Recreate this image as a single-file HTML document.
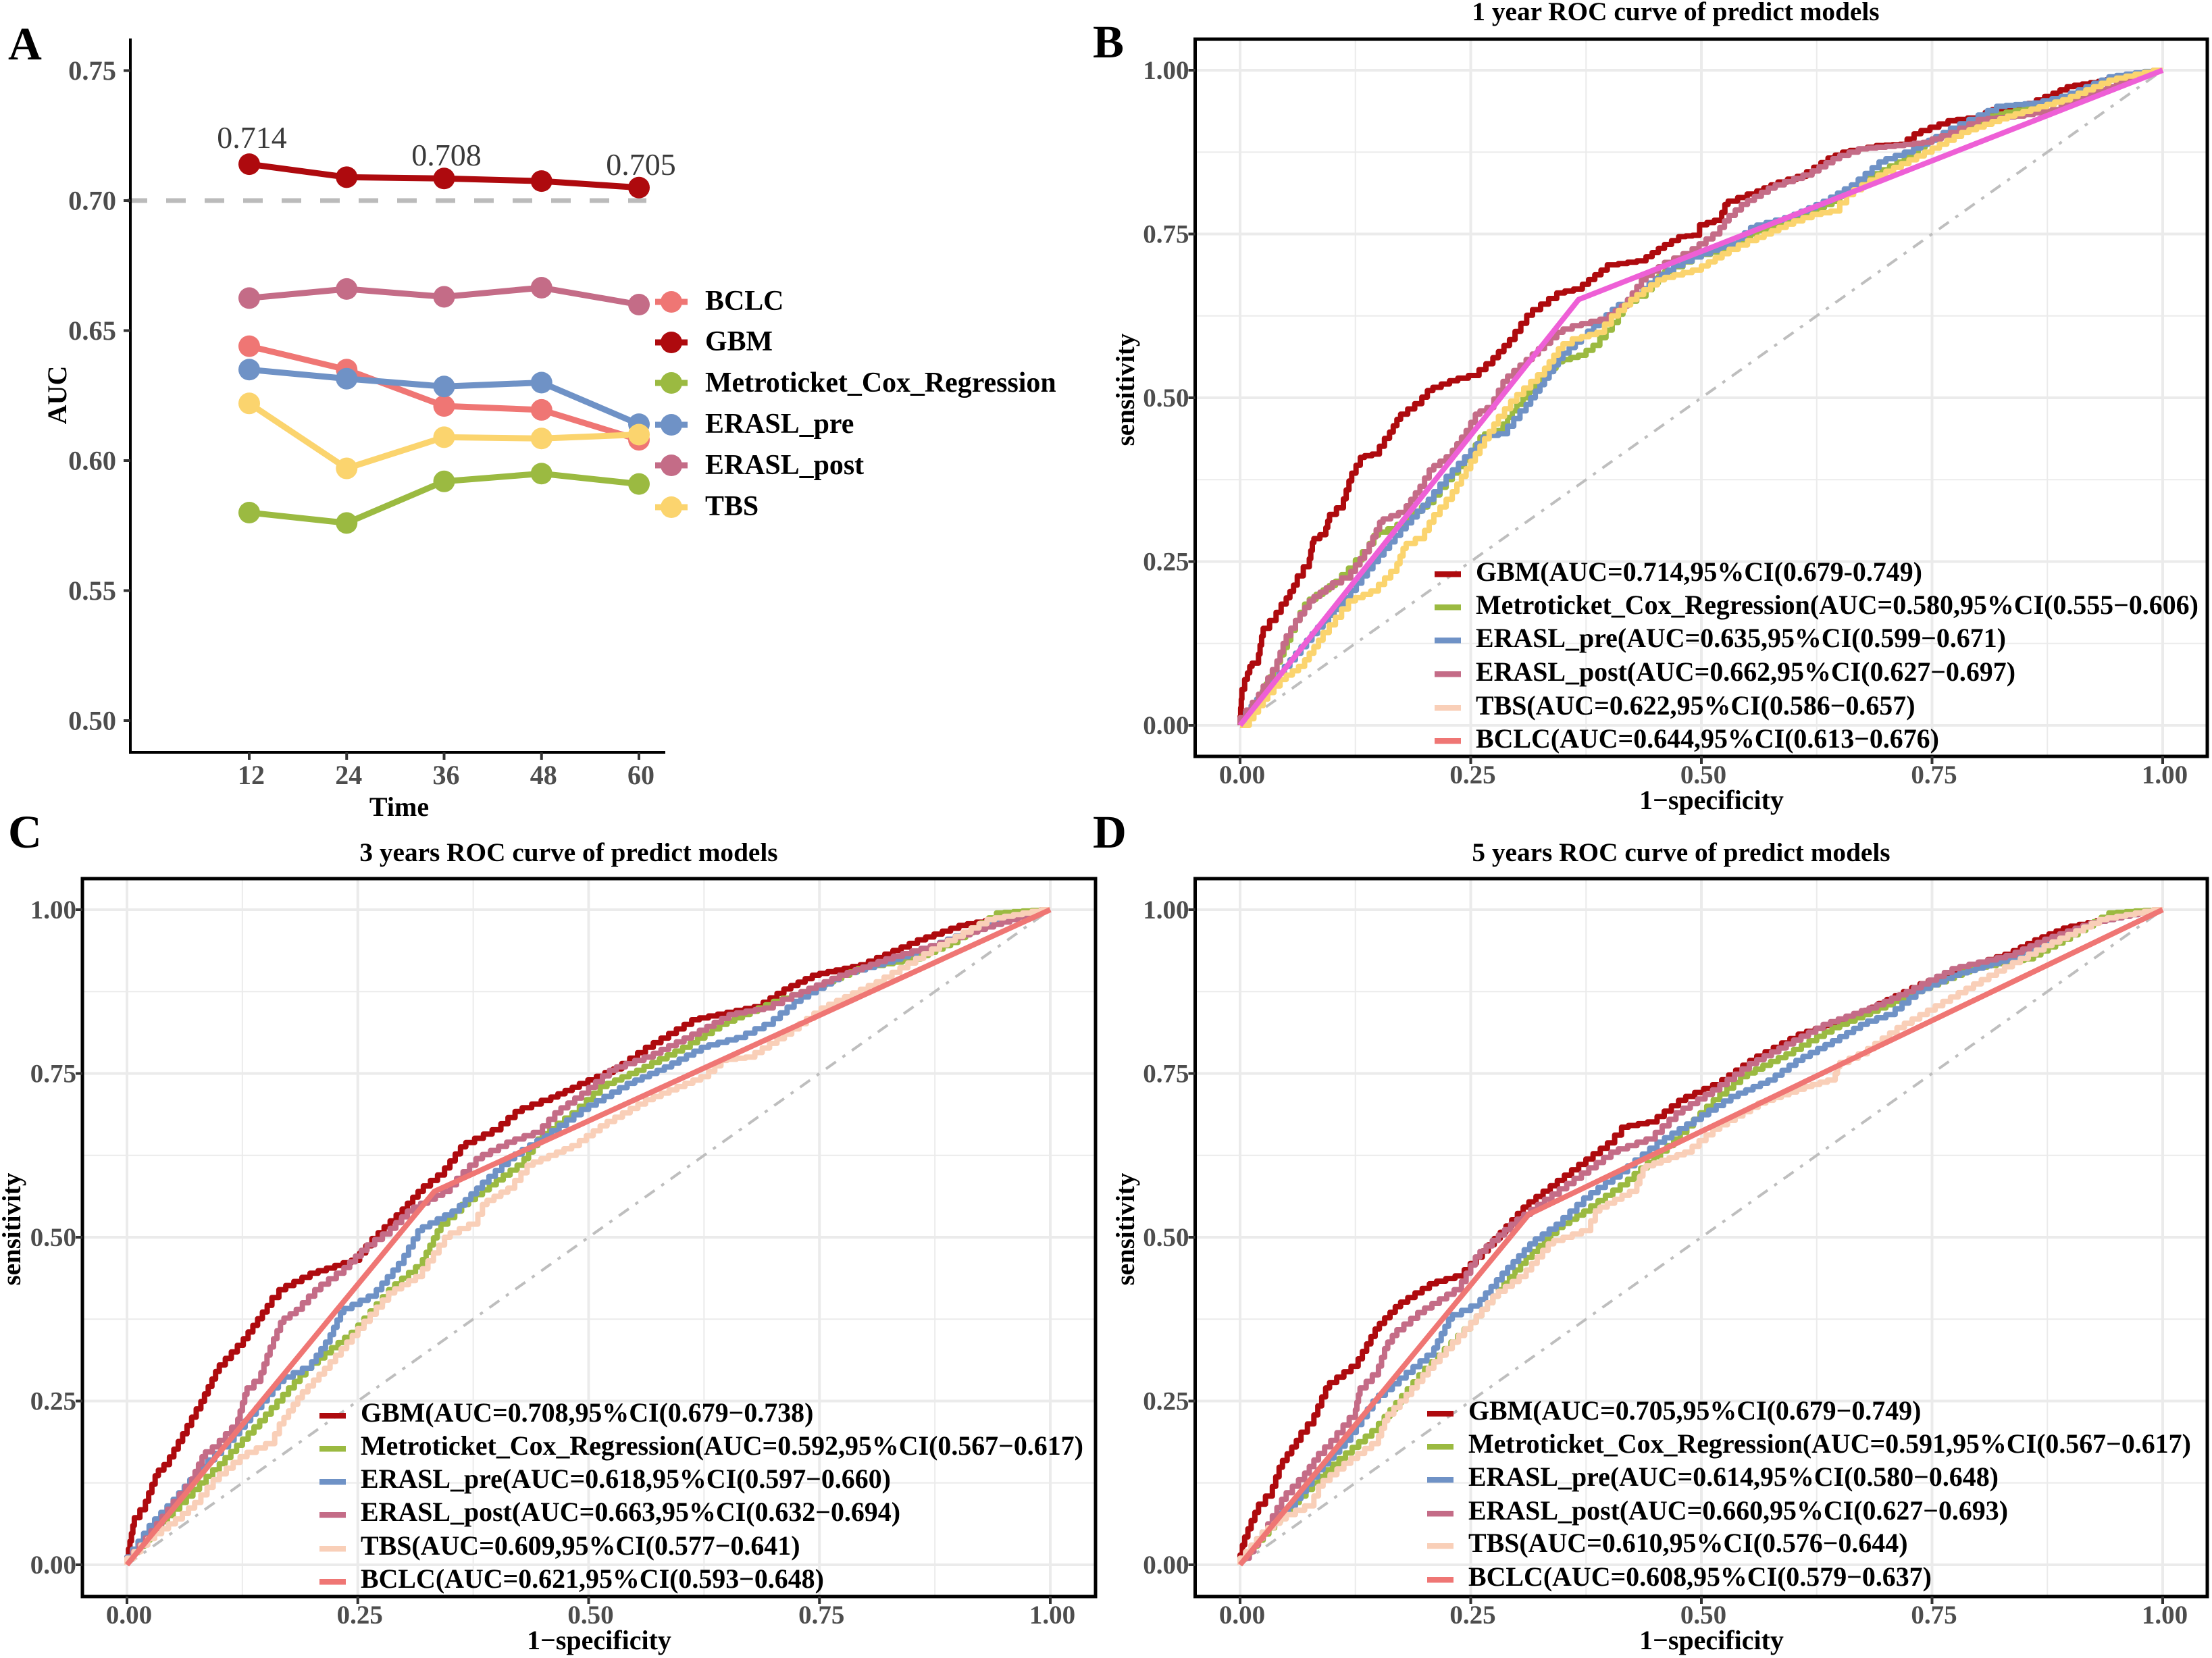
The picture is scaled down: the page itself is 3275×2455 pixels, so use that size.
<!DOCTYPE html>
<html lang="en">
<head>
<meta charset="utf-8">
<title>AUC over time and ROC curves of predict models</title>
<style>
html,body{margin:0;padding:0;background:#fff;}
svg{display:block;font-family:"Liberation Serif",serif;}
.b{font-weight:bold;fill:#000;}
.lg{font-size:39.9px;font-weight:bold;fill:#000;}
.ttl{font-size:39.3px;font-weight:bold;fill:#000;text-anchor:middle;}
.axt{font-size:40px;font-weight:bold;fill:#000;text-anchor:middle;}
.let{font-size:69px;font-weight:bold;fill:#000;}
.val{font-size:46px;fill:#3a3a3a;text-anchor:middle;}
.lga{font-size:41.9px;font-weight:bold;fill:#000;}
</style>
</head>
<body>
<svg id="figure" xmlns="http://www.w3.org/2000/svg" width="3275" height="2455" viewBox="0 0 3275 2455">
<rect width="3275" height="2455" fill="#fff"/>

<g id="panel-a">
  <g id="a-marks"></g>
  <text class="let" x="12" y="88">A</text>
  <text class="val" x="373" y="219">0.714</text>
  <text class="val" x="661" y="245">0.708</text>
  <text class="val" x="949" y="259">0.705</text>
  <text class="axt" x="591" y="1208">Time</text>
  <text class="axt" transform="translate(98,585) rotate(-90)">AUC</text>
  <g>
    <g><line x1="970" x2="1018" y1="447" y2="447" stroke="#EF7674" stroke-width="9"/><circle cx="994" cy="447" r="16" fill="#EF7674"/><text class="lga" x="1044" y="459">BCLC</text></g>
    <g><line x1="970" x2="1018" y1="507" y2="507" stroke="#AE0A0E" stroke-width="9"/><circle cx="994" cy="507" r="16" fill="#AE0A0E"/><text class="lga" x="1044" y="519">GBM</text></g>
    <g><line x1="970" x2="1018" y1="567" y2="567" stroke="#9BBA41" stroke-width="9"/><circle cx="994" cy="567" r="16" fill="#9BBA41"/><text class="lga" x="1044" y="580">Metroticket_Cox_Regression</text></g>
    <g><line x1="970" x2="1018" y1="629" y2="629" stroke="#6F92C6" stroke-width="9"/><circle cx="994" cy="629" r="16" fill="#6F92C6"/><text class="lga" x="1044" y="641">ERASL_pre</text></g>
    <g><line x1="970" x2="1018" y1="689" y2="689" stroke="#C46C87" stroke-width="9"/><circle cx="994" cy="689" r="16" fill="#C46C87"/><text class="lga" x="1044" y="702">ERASL_post</text></g>
    <g><line x1="970" x2="1018" y1="751" y2="751" stroke="#FBD46E" stroke-width="9"/><circle cx="994" cy="751" r="16" fill="#FBD46E"/><text class="lga" x="1044" y="763">TBS</text></g>
  </g>
</g>

<g id="panel-b">
  <g id="b-marks"></g>
  <text class="let" x="1618" y="85">B</text>
  <text class="ttl" x="2481" y="30">1 year ROC curve of predict models</text>
  <text class="axt" x="2534" y="1198">1−specificity</text>
  <text class="axt" style="font-size:39px" transform="translate(1679,577) rotate(-90)">sensitivity</text>
  <g>
    <g><rect x="2124" y="846" width="39" height="8.5" fill="#AE0A0E"/><text class="lg" x="2185" y="860">GBM(AUC=0.714,95%CI(0.679-0.749)</text></g>
    <g><rect x="2124" y="895" width="39" height="8.5" fill="#9BBA41"/><text class="lg" x="2185" y="909">Metroticket_Cox_Regression(AUC=0.580,95%CI(0.555−0.606)</text></g>
    <g><rect x="2124" y="944" width="39" height="8.5" fill="#6F92C6"/><text class="lg" x="2185" y="958">ERASL_pre(AUC=0.635,95%CI(0.599−0.671)</text></g>
    <g><rect x="2124" y="994" width="39" height="8.5" fill="#C46C87"/><text class="lg" x="2185" y="1008">ERASL_post(AUC=0.662,95%CI(0.627−0.697)</text></g>
    <g><rect x="2124" y="1044" width="39" height="8.5" fill="#F9CFB8"/><text class="lg" x="2185" y="1058">TBS(AUC=0.622,95%CI(0.586−0.657)</text></g>
    <g><rect x="2124" y="1093" width="39" height="8.5" fill="#EF7674"/><text class="lg" x="2185" y="1107">BCLC(AUC=0.644,95%CI(0.613−0.676)</text></g>
  </g>
</g>

<g id="panel-c">
  <g id="c-marks"></g>
  <text class="let" x="12" y="1255">C</text>
  <text class="ttl" x="842" y="1275">3 years ROC curve of predict models</text>
  <text class="axt" x="887" y="2442">1−specificity</text>
  <text class="axt" style="font-size:39px" transform="translate(30,1820) rotate(-90)">sensitivity</text>
  <g>
    <g><rect x="473" y="2092" width="39" height="8.5" fill="#AE0A0E"/><text class="lg" x="534" y="2105">GBM(AUC=0.708,95%CI(0.679−0.738)</text></g>
    <g><rect x="473" y="2141" width="39" height="8.5" fill="#9BBA41"/><text class="lg" x="534" y="2154">Metroticket_Cox_Regression(AUC=0.592,95%CI(0.567−0.617)</text></g>
    <g><rect x="473" y="2190" width="39" height="8.5" fill="#6F92C6"/><text class="lg" x="534" y="2203">ERASL_pre(AUC=0.618,95%CI(0.597−0.660)</text></g>
    <g><rect x="473" y="2239" width="39" height="8.5" fill="#C46C87"/><text class="lg" x="534" y="2252">ERASL_post(AUC=0.663,95%CI(0.632−0.694)</text></g>
    <g><rect x="473" y="2289" width="39" height="8.5" fill="#F9CFB8"/><text class="lg" x="534" y="2302">TBS(AUC=0.609,95%CI(0.577−0.641)</text></g>
    <g><rect x="473" y="2338" width="39" height="8.5" fill="#EF7674"/><text class="lg" x="534" y="2351">BCLC(AUC=0.621,95%CI(0.593−0.648)</text></g>
  </g>
</g>

<g id="panel-d">
  <g id="d-marks"></g>
  <text class="let" x="1618" y="1255">D</text>
  <text class="ttl" x="2489" y="1275">5 years ROC curve of predict models</text>
  <text class="axt" x="2534" y="2442">1−specificity</text>
  <text class="axt" style="font-size:39px" transform="translate(1679,1820) rotate(-90)">sensitivity</text>
  <g>
    <g><rect x="2113" y="2089" width="39" height="8.5" fill="#AE0A0E"/><text class="lg" x="2174" y="2102">GBM(AUC=0.705,95%CI(0.679−0.749)</text></g>
    <g><rect x="2113" y="2138" width="39" height="8.5" fill="#9BBA41"/><text class="lg" x="2174" y="2151">Metroticket_Cox_Regression(AUC=0.591,95%CI(0.567−0.617)</text></g>
    <g><rect x="2113" y="2187" width="39" height="8.5" fill="#6F92C6"/><text class="lg" x="2174" y="2200">ERASL_pre(AUC=0.614,95%CI(0.580−0.648)</text></g>
    <g><rect x="2113" y="2237" width="39" height="8.5" fill="#C46C87"/><text class="lg" x="2174" y="2250">ERASL_post(AUC=0.660,95%CI(0.627−0.693)</text></g>
    <g><rect x="2113" y="2285" width="39" height="8.5" fill="#F9CFB8"/><text class="lg" x="2174" y="2298">TBS(AUC=0.610,95%CI(0.576−0.644)</text></g>
    <g><rect x="2113" y="2335" width="39" height="8.5" fill="#EF7674"/><text class="lg" x="2174" y="2348">BCLC(AUC=0.608,95%CI(0.579−0.637)</text></g>
  </g>
</g>
</svg>

<script>
/* ---------- Panel A data ---------- */
const aucTimes = [12, 24, 36, 48, 60];
const aucTicks = [0.50, 0.55, 0.60, 0.65, 0.70, 0.75];
const aucReference = 0.70;
const aucBCLC = [0.644, 0.635, 0.621, 0.6195, 0.608];
const aucGBM = [0.714, 0.709, 0.7085, 0.7075, 0.705];
const aucMetro = [0.580, 0.576, 0.592, 0.595, 0.591];
const aucPre = [0.635, 0.6315, 0.6285, 0.630, 0.614];
const aucPost = [0.6625, 0.666, 0.663, 0.6665, 0.660];
const aucTBS = [0.622, 0.597, 0.609, 0.6085, 0.610];

/* ---------- ROC shared ticks ---------- */
const rocMajor = [0, 0.25, 0.5, 0.75, 1];
const rocMinor = [0.125, 0.375, 0.625, 0.875];
const rocLabels = ['0.00', '0.25', '0.50', '0.75', '1.00'];

/* ---------- Panel B data: [1-specificity, sensitivity] ---------- */
const rocB_GBM = [[0,0],[.002,.04],[.008,.07],[.013,.09],[.02,.095],[.025,.136],[.039,.16],[.05,.185],[.062,.214],[.075,.242],[.08,.279],[.093,.291],[.097,.312],[.112,.332],[.121,.373],[.135,.409],[.151,.414],[.162,.438],[.174,.467],[.197,.491],[.209,.511],[.236,.526],[.259,.534],[.274,.552],[.298,.589],[.317,.626],[.352,.66],[.371,.666],[.398,.695],[.41,.703],[.44,.709],[.46,.728],[.483,.746],[.498,.748],[.506,.764],[.522,.771],[.529,.795],[.56,.811],[.583,.825],[.614,.838],[.645,.866],[.661,.875],[.699,.885],[.723,.887],[.738,.903],[.777,.923],[.8,.927],[.823,.94],[.854,.944],[.881,.96],[.904,.975],[.939,.983],[.97,.991],[1,1]];
const rocB_Metro = [[0,0],[.02,.03],[.04,.085],[.055,.13],[.065,.16],[.075,.185],[.09,.2],[.11,.22],[.125,.24],[.14,.265],[.15,.29],[.17,.3],[.19,.32],[.21,.34],[.23,.375],[.25,.405],[.265,.44],[.285,.45],[.3,.48],[.32,.51],[.335,.535],[.35,.555],[.375,.565],[.39,.58],[.41,.615],[.42,.64],[.44,.655],[.46,.685],[.48,.7],[.5,.715],[.54,.73],[.56,.75],[.6,.77],[.65,.8],[.68,.83],[.72,.86],[.75,.89],[.78,.905],[.82,.93],[.87,.945],[.9,.96],[.95,.985],[1,1]];
const rocB_Pre = [[0,0],[.03,.05],[.06,.1],[.09,.15],[.12,.195],[.15,.25],[.18,.3],[.21,.345],[.23,.38],[.25,.41],[.27,.44],[.29,.445],[.31,.48],[.33,.52],[.35,.56],[.37,.585],[.39,.61],[.41,.635],[.43,.65],[.45,.675],[.47,.695],[.5,.715],[.54,.735],[.56,.76],[.6,.775],[.64,.8],[.67,.825],[.7,.86],[.73,.875],[.77,.905],[.8,.925],[.83,.945],[.87,.95],[.9,.96],[.95,.99],[1,1]];
const rocB_Post = [[0,0],[.02,.035],[.04,.085],[.05,.125],[.065,.16],[.08,.19],[.1,.21],[.12,.225],[.14,.265],[.155,.31],[.18,.325],[.2,.365],[.21,.39],[.23,.41],[.25,.45],[.26,.475],[.275,.485],[.29,.525],[.31,.55],[.33,.575],[.35,.6],[.37,.61],[.4,.62],[.42,.64],[.44,.68],[.46,.7],[.49,.72],[.52,.75],[.53,.77],[.55,.795],[.58,.82],[.62,.84],[.65,.865],[.68,.88],[.72,.885],[.75,.89],[.78,.905],[.81,.925],[.85,.93],[.89,.94],[.92,.96],[.96,.98],[1,1]];
const rocB_TBS = [[0,0],[.01,0],[.03,.04],[.05,.07],[.07,.09],[.09,.13],[.11,.165],[.125,.19],[.15,.205],[.17,.235],[.18,.27],[.2,.285],[.21,.31],[.23,.345],[.245,.38],[.26,.415],[.28,.46],[.3,.495],[.33,.535],[.35,.575],[.37,.59],[.395,.6],[.41,.625],[.43,.65],[.46,.68],[.5,.695],[.53,.72],[.56,.74],[.6,.765],[.63,.78],[.65,.785],[.665,.81],[.7,.84],[.75,.875],[.79,.905],[.84,.93],[.9,.955],[.95,.985],[1,1]];
const rocB_BCLC = [[0,0],[.367,.65],[1,1]];

/* ---------- Panel C data ---------- */
const rocC_GBM = [[0,0],[.008,.06],[.02,.084],[.034,.136],[.046,.153],[.065,.2],[.08,.238],[.1,.295],[.126,.335],[.157,.396],[.172,.42],[.207,.445],[.252,.465],[.272,.498],[.298,.534],[.321,.57],[.344,.595],[.367,.638],[.405,.664],[.428,.692],[.459,.709],[.49,.729],[.536,.757],[.57,.79],[.62,.832],[.689,.852],[.719,.879],[.75,.9],[.803,.916],[.865,.954],[.91,.976],[.949,.986],[1,1]];
const rocC_Metro = [[0,0],[.05,.075],[.1,.145],[.15,.22],[.2,.3],[.25,.355],[.29,.42],[.32,.455],[.34,.51],[.37,.55],[.4,.58],[.43,.61],[.45,.65],[.49,.69],[.52,.73],[.56,.755],[.61,.79],[.65,.825],[.7,.855],[.74,.875],[.8,.91],[.86,.925],[.9,.95],[.95,.995],[1,1]];
const rocC_Pre = [[0,0],[.03,.06],[.05,.09],[.08,.14],[.11,.18],[.14,.23],[.17,.28],[.2,.3],[.22,.34],[.235,.385],[.27,.41],[.3,.46],[.32,.51],[.36,.54],[.385,.575],[.42,.62],[.46,.655],[.5,.695],[.55,.735],[.59,.76],[.63,.79],[.67,.805],[.7,.825],[.73,.86],[.78,.9],[.83,.92],[.88,.945],[.94,.98],[1,1]];
const rocC_Post = [[0,0],[.02,.03],[.05,.085],[.07,.12],[.085,.165],[.1,.18],[.12,.21],[.13,.26],[.145,.28],[.155,.32],[.17,.37],[.19,.39],[.21,.42],[.235,.445],[.26,.48],[.285,.505],[.31,.54],[.35,.57],[.385,.62],[.42,.645],[.45,.66],[.47,.69],[.5,.72],[.53,.755],[.57,.775],[.62,.81],[.66,.84],[.7,.85],[.73,.87],[.78,.9],[.83,.925],[.88,.945],[.93,.97],[1,1]];
const rocC_TBS = [[0,0],[.03,.04],[.06,.07],[.08,.095],[.1,.13],[.13,.165],[.16,.185],[.17,.215],[.19,.255],[.22,.3],[.25,.35],[.29,.415],[.32,.44],[.35,.5],[.38,.52],[.39,.55],[.42,.575],[.44,.61],[.49,.64],[.52,.67],[.57,.71],[.63,.745],[.65,.77],[.68,.775],[.72,.81],[.76,.85],[.82,.89],[.88,.94],[.94,.985],[1,1]];
const rocC_BCLC = [[0,0],[.333,.57],[1,1]];

/* ---------- Panel D data ---------- */
const rocD_GBM = [[0,0],[.005,.03],[.012,.055],[.02,.08],[.035,.105],[.046,.149],[.066,.19],[.08,.215],[.097,.27],[.128,.303],[.151,.36],[.174,.394],[.213,.429],[.243,.441],[.282,.498],[.313,.546],[.367,.603],[.406,.644],[.421,.668],[.452,.676],[.483,.709],[.522,.733],[.56,.77],[.614,.81],[.661,.832],[.692,.851],[.746,.887],[.792,.912],[.838,.932],[.869,.954],[.9,.972],[.947,.986],[1,1]];
const rocD_Metro = [[0,0],[.05,.075],[.1,.145],[.15,.205],[.2,.29],[.25,.36],[.28,.41],[.31,.46],[.35,.515],[.38,.54],[.42,.58],[.47,.64],[.52,.71],[.55,.745],[.6,.78],[.65,.82],[.7,.85],[.74,.875],[.8,.91],[.86,.925],[.9,.955],[.95,.995],[1,1]];
const rocD_Pre = [[0,0],[.03,.05],[.06,.09],[.09,.145],[.12,.19],[.15,.25],[.18,.285],[.21,.32],[.23,.375],[.26,.395],[.29,.445],[.32,.49],[.35,.52],[.38,.56],[.42,.6],[.46,.645],[.5,.68],[.54,.715],[.58,.74],[.61,.77],[.65,.8],[.68,.825],[.71,.84],[.74,.875],[.78,.9],[.84,.925],[.88,.95],[.93,.98],[1,1]];
const rocD_Post = [[0,0],[.01,.01],[.03,.05],[.05,.1],[.07,.13],[.085,.16],[.105,.19],[.125,.225],[.13,.26],[.15,.29],[.16,.33],[.17,.35],[.2,.385],[.24,.42],[.26,.47],[.3,.52],[.33,.55],[.37,.59],[.41,.63],[.45,.65],[.48,.69],[.52,.725],[.56,.765],[.6,.795],[.64,.825],[.69,.85],[.73,.875],[.78,.91],[.84,.93],[.88,.955],[.93,.98],[1,1]];
const rocD_TBS = [[0,0],[.03,.05],[.05,.07],[.08,.09],[.09,.12],[.12,.155],[.15,.185],[.16,.22],[.18,.25],[.21,.3],[.25,.36],[.28,.41],[.31,.44],[.34,.49],[.38,.51],[.39,.54],[.43,.57],[.44,.605],[.49,.63],[.52,.665],[.57,.705],[.62,.73],[.645,.74],[.65,.76],[.68,.78],[.72,.82],[.77,.86],[.82,.9],[.88,.945],[.94,.985],[1,1]];
const rocD_BCLC = [[0,0],[.313,.535],[1,1]];

const SVGNS = 'http://www.w3.org/2000/svg';
function mk(parent, tag, attrs, text) {
  const el = document.createElementNS(SVGNS, tag);
  for (const k in attrs) el.setAttribute(k, attrs[k]);
  if (text !== undefined) el.textContent = text;
  parent.appendChild(el);
  return el;
}

/* ---------- Panel A ---------- */
(function () {
  const g = document.getElementById('a-marks');
  const xA = t => 369 + (t - 12) * (946 - 369) / 48;
  const yA = v => 1067 - (v - 0.5) * 3850;

  const ref = mk(g, 'line', {x1: 189, x2: 957, y1: yA(aucReference), y2: yA(aucReference), stroke: '#BBBBBB', 'stroke-width': 7, 'stroke-dasharray': '29 28'});
  
  

  const series = [
    ['bclc', aucBCLC, '#EF7674'],
    ['gbm', aucGBM, '#AE0A0E'],
    ['metroticket', aucMetro, '#9BBA41'],
    ['erasl-pre', aucPre, '#6F92C6'],
    ['erasl-post', aucPost, '#C46C87'],
    ['tbs', aucTBS, '#FBD46E']
  ];
  series.forEach(s => {
    const pts = s[1].map((v, i) => xA(aucTimes[i]) + ',' + yA(v)).join(' ');
    const line = mk(g, 'polyline', {points: pts, fill: 'none', stroke: s[2], 'stroke-width': 9});
    
    
  });
  series.forEach(s => {
    s[1].forEach((v, i) => {
      const dot = mk(g, 'circle', {cx: xA(aucTimes[i]), cy: yA(v), r: 16, fill: s[2]});
      
      
    });
  });

  const yAxis = mk(g, 'line', {x1: 193, x2: 193, y1: 57, y2: 1116, stroke: '#000', 'stroke-width': 4});
  
  
  const xAxis = mk(g, 'line', {x1: 191, x2: 985, y1: 1114, y2: 1114, stroke: '#000', 'stroke-width': 4});
  
  

  aucTicks.forEach(v => {
    const tick = mk(g, 'line', {x1: 183, x2: 193, y1: yA(v), y2: yA(v), stroke: '#333', 'stroke-width': 4});
    
    
    const lab = mk(g, 'text', {x: 172, y: yA(v) + 13.5, 'text-anchor': 'end', 'font-size': 40.5, 'font-weight': 'bold', fill: '#4D4D4D'}, v.toFixed(2));
    
    
  });
  aucTimes.forEach(t => {
    const tick = mk(g, 'line', {x1: xA(t), x2: xA(t), y1: 1114, y2: 1125, stroke: '#333', 'stroke-width': 4});
    
    
    const lab = mk(g, 'text', {x: xA(t) + 3, y: 1161, 'text-anchor': 'middle', 'font-size': 40, 'font-weight': 'bold', fill: '#4D4D4D'}, String(t));
    
    
  });
})();

/* ---------- ROC panels ---------- */
/* Empirical ROC curves are staircases: each read segment is drawn as small horizontal/vertical steps. */
function stepPath(px) {
  const stepSize = 13;
  let d = 'M' + px[0][0].toFixed(1) + ' ' + px[0][1].toFixed(1);
  for (let i = 1; i < px.length; i++) {
    const a = px[i - 1], b = px[i];
    const n = Math.max(1, Math.round(Math.hypot(b[0] - a[0], b[1] - a[1]) / stepSize));
    for (let k = 1; k <= n; k++) {
      const tx = a[0] + (b[0] - a[0]) * k / n;
      const ty = a[1] + (b[1] - a[1]) * k / n;
      d += 'V' + ty.toFixed(1) + 'H' + tx.toFixed(1);
    }
  }
  return d;
}

function drawRoc(id, box, curves) {
  const g = document.getElementById(id);
  const xS = v => box.x0 + v * (box.x1 - box.x0);
  const yS = v => box.y0 + v * (box.y1 - box.y0);

  rocMinor.forEach(v => {
    const gx = mk(g, 'line', {x1: xS(v), x2: xS(v), y1: box.top, y2: box.bottom, stroke: '#EBEBEB', 'stroke-width': 2});
    
    
    const gy = mk(g, 'line', {x1: box.left, x2: box.right, y1: yS(v), y2: yS(v), stroke: '#EBEBEB', 'stroke-width': 2});
    
    
  });
  rocMajor.forEach(v => {
    const gx = mk(g, 'line', {x1: xS(v), x2: xS(v), y1: box.top, y2: box.bottom, stroke: '#EBEBEB', 'stroke-width': 4});
    
    
    const gy = mk(g, 'line', {x1: box.left, x2: box.right, y1: yS(v), y2: yS(v), stroke: '#EBEBEB', 'stroke-width': 4});
    
    
  });

  const diag = mk(g, 'line', {x1: xS(0), y1: yS(0), x2: xS(1), y2: yS(1), stroke: '#BEBEBE', 'stroke-width': 4, 'stroke-dasharray': '18 12 5 12'});
  
  

  curves.forEach(c => {
    const px = c[1].map(p => [xS(p[0]), yS(p[1])]);
    const straight = c[1].length < 4;
    const d = straight
      ? 'M' + px.map(p => p[0].toFixed(1) + ' ' + p[1].toFixed(1)).join('L')
      : stepPath(px);
    const line = mk(g, 'path', {d: d, fill: 'none', stroke: c[2], 'stroke-width': 8, 'stroke-linejoin': 'round'});
    
    
  });

  const frame = mk(g, 'rect', {x: box.left, y: box.top, width: box.right - box.left, height: box.bottom - box.top, fill: 'none', stroke: '#000', 'stroke-width': 5});
  
  

  rocMajor.forEach((v, i) => {
    const tx = mk(g, 'line', {x1: xS(v), x2: xS(v), y1: box.bottom, y2: box.bottom + 11, stroke: '#333', 'stroke-width': 4});
    
    
    const ty = mk(g, 'line', {x1: box.left - 10, x2: box.left, y1: yS(v), y2: yS(v), stroke: '#333', 'stroke-width': 4});
    
    
    const lx = mk(g, 'text', {x: xS(v) + 3, y: box.bottom + 40, 'text-anchor': 'middle', 'font-size': 39, 'font-weight': 'bold', fill: '#4D4D4D'}, rocLabels[i]);
    
    
    const ly = mk(g, 'text', {x: box.left - 9, y: yS(v) + 13, 'text-anchor': 'end', 'font-size': 39, 'font-weight': 'bold', fill: '#4D4D4D'}, rocLabels[i]);
    
    
  });
}

drawRoc('b-marks', {left: 1769.5, right: 3268, top: 58, bottom: 1120, x0: 1836, x1: 3202, y0: 1074, y1: 104}, [
  ['gbm', rocB_GBM, '#AE0A0E'],
  ['metroticket', rocB_Metro, '#9BBA41'],
  ['erasl-pre', rocB_Pre, '#6F92C6'],
  ['erasl-post', rocB_Post, '#C46C87'],
  ['tbs', rocB_TBS, '#FBD46E'],
  ['bclc', rocB_BCLC, '#EE5FD6']
]);
drawRoc('c-marks', {left: 122, right: 1622, top: 1301, bottom: 2364, x0: 188, x1: 1555, y0: 2317, y1: 1347}, [
  ['gbm', rocC_GBM, '#AE0A0E'],
  ['metroticket', rocC_Metro, '#9BBA41'],
  ['erasl-pre', rocC_Pre, '#6F92C6'],
  ['erasl-post', rocC_Post, '#C46C87'],
  ['tbs', rocC_TBS, '#F9CFB8'],
  ['bclc', rocC_BCLC, '#EF7674']
]);
drawRoc('d-marks', {left: 1769.5, right: 3268, top: 1301, bottom: 2364, x0: 1836, x1: 3202, y0: 2317, y1: 1347}, [
  ['gbm', rocD_GBM, '#AE0A0E'],
  ['metroticket', rocD_Metro, '#9BBA41'],
  ['erasl-pre', rocD_Pre, '#6F92C6'],
  ['erasl-post', rocD_Post, '#C46C87'],
  ['tbs', rocD_TBS, '#F9CFB8'],
  ['bclc', rocD_BCLC, '#EF7674']
]);
</script>
</body>
</html>
